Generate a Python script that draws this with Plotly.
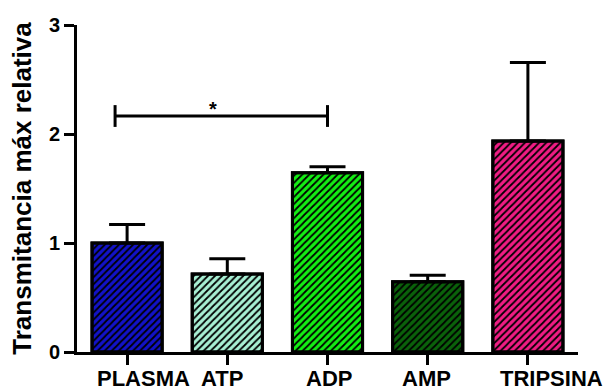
import plotly.graph_objects as go

categories = ["PLASMA", "ATP", "ADP", "AMP", "TRIPSINA"]
values = [1.0, 0.715, 1.645, 0.645, 1.935]
errors = [0.17, 0.14, 0.055, 0.06, 0.72]
zeros = [0, 0, 0, 0, 0]
colors = ["#1212c8", "#a8f0d4", "#14ee14", "#0a620a", "#f01c84"]
y_ticks = [0, 1, 2, 3]
sig_label = "*"
sig_value = 2.165
label_shift = [16, -5, 1, -1, 24]

FONT = "Liberation Sans, Arial, sans-serif"

fig = go.Figure()
# solid coloured fill
fig.add_trace(go.Bar(
    x=categories, y=values, width=0.7,
    marker=dict(color=colors, line=dict(color="black", width=3)),
    showlegend=False, hoverinfo="skip",
))
# black diagonal hatch on top, with outline and error bars
fig.add_trace(go.Bar(
    x=categories, y=values, width=0.7,
    marker=dict(
        color="rgba(0,0,0,0)",
        line=dict(color="black", width=3),
        pattern=dict(shape="/", fgcolor="#000000", bgcolor="rgba(0,0,0,0)",
                     size=5, solidity=0.35, fillmode="replace"),
    ),
    error_y=dict(type="data", array=errors, arrayminus=zeros, symmetric=False,
                 color="black", thickness=3, width=18),
    showlegend=False,
))

# significance bracket from PLASMA to ADP
fig.add_shape(type="line", xref="x", yref="y", x0=-0.12, x1=2.0, y0=sig_value, y1=sig_value,
              line=dict(color="black", width=3))
for xe in (-0.12, 2.0):
    fig.add_shape(type="line", xref="x", yref="y", x0=xe, x1=xe, y0=sig_value - 0.1, y1=sig_value + 0.1,
                  line=dict(color="black", width=3))
fig.add_annotation(x=0.86, y=sig_value, xref="x", yref="y", text="<b>" + sig_label + "</b>",
                   showarrow=False, yanchor="bottom", yshift=-6,
                   font=dict(family=FONT, size=20, color="black"))

for i, c in enumerate(categories):
    fig.add_annotation(x=c, y=0, xref="x", yref="paper", text="<b>" + c + "</b>",
                       showarrow=False, yanchor="top", xanchor="center",
                       xshift=label_shift[i], yshift=-12,
                       font=dict(family=FONT, size=22, color="black"))

fig.update_layout(
    width=610, height=392, barmode="overlay",
    margin=dict(l=77, r=32, t=25, b=40),
    paper_bgcolor="white", plot_bgcolor="white",
    font=dict(family=FONT, color="black"),
    xaxis=dict(range=[-0.5, 4.5], showline=True, linecolor="black", linewidth=3,
               ticks="outside", ticklen=10, tickwidth=3, tickcolor="black",
               showticklabels=False, showgrid=False, zeroline=False),
    yaxis=dict(range=[0, 3], tickvals=y_ticks, ticktext=["<b>%d</b>" % v for v in y_ticks],
               showline=True, linecolor="black", linewidth=3,
               ticks="outside", ticklen=10, tickwidth=3, tickcolor="black",
               tickfont=dict(family=FONT, size=20, color="black"),
               showgrid=False, zeroline=False, automargin=False,
               title=dict(text="<b>Transmitancia máx relativa</b>", standoff=10,
                          font=dict(family=FONT, size=26, color="black"))),
)

fig.write_html("out.html", config={"displayModeBar": False},
               post_script="document.body.style.margin='0px';document.body.style.overflow='hidden';")
